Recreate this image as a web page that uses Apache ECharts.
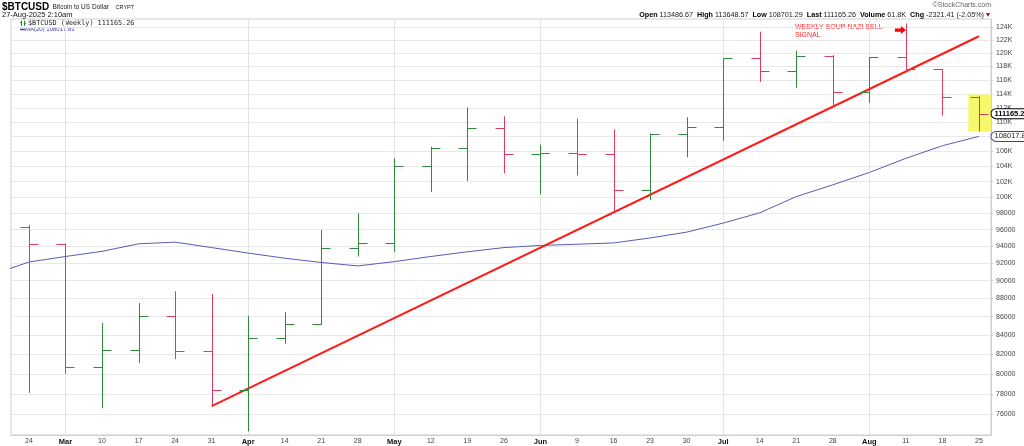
<!DOCTYPE html>
<html><head><meta charset="utf-8">
<script src="https://cdn.jsdelivr.net/npm/echarts@6/dist/echarts.min.js"></script>
<style>html,body{margin:0;padding:0;background:#fff}#c{width:1024px;height:446px}</style>
</head><body><div id="c"></div>
<script>
// ---- data (weekly bars, Feb 24 – Aug 25 2025) ----
const weekLabels = ['24','Mar','10','17','24','31','Apr','14','21','28','May','12','19','26','Jun','9','16','23','30','Jul','14','21','28','Aug','11','18','25'];
const openP  = [96300, 94300, 80700, 82500, 86100, 82300, 78400, 83700, 85200, 93750, 94350, 104100, 106500, 109100, 105700, 105800, 105600, 101000, 108300, 109300, 119200, 117300, 119550, 114300, 119400, 117600, 113486.67];
const highP  = [96560, 94300, 85300, 87500, 88800, 88500, 86100, 86500, 95950, 98000, 105060, 106600, 112050, 110800, 106900, 110500, 108970, 108400, 110650, 119200, 123300, 120400, 119700, 119400, 124600, 117600, 113648.57];
const lowP   = [78100, 80000, 76600, 81100, 81500, 76800, 74400, 83100, 85100, 92800, 93350, 100700, 102100, 103100, 100400, 102800, 98200, 99650, 105200, 107400, 115700, 114800, 112050, 112700, 117200, 110900, 108701.29];
const closeP = [94300, 80700, 82500, 86100, 82300, 78400, 83700, 85200, 93750, 94350, 104100, 106500, 109100, 105700, 105800, 105600, 101000, 108400, 109300, 119200, 117300, 119550, 114300, 119400, 117600, 113486.67, 111165.26];
const maPrior = 90700; // MA(20) of the week before the first shown bar
const ma20 = [92150, 92800, 93400, 94300, 94500, 93850, 93200, 92600, 92100, 91700, 92200, 92800, 93350, 93850, 94100, 94250, 94400, 95000, 95700, 96800, 98070, 100100, 101600, 103200, 105060, 106750, 108017.81];
const yTicks = [76000, 78000, 80000, 82000, 84000, 86000, 88000, 90000, 92000, 94000, 96000, 98000, 100000, 102000, 104000, 106000, 108000, 110000, 112000, 114000, 116000, 118000, 120000, 122000, 124000];
const trendStart = [5, 76800];
const trendEnd = [26, 122600];
const lastVolume = '61.8K';
const signalText = 'WEEKLY SOUP NAZI SELL\nSIGNAL';
const signalArrowAt = [23.85, 123560];
const highlightBox = [[25.71, 113900], [26.33, 108650]];

// ---- helpers ----
const L = Math.log;
const n = weekLabels.length;
const last = n - 1;
const XMIN = -0.49, XMAX = 26.33;
const UP = '#2f8a3b', DOWN = '#dc3a62';
const FONT = 'Liberation Sans, Arial, sans-serif';

const ohlc = weekLabels.map((_, i) => [i, L(openP[i]), L(highP[i]), L(lowP[i]), L(closeP[i])]);
const maData = [[-1, L(maPrior)]].concat(ma20.map((v, i) => [i, L(v)]));
const monthIdx = weekLabels.map((s, i) => /^\d/.test(s) ? -1 : i).filter(i => i >= 0);

const chg = closeP[last] - closeP[last - 1];
const chgPct = chg / closeP[last - 1] * 100;
const fmt2 = v => v.toFixed(2);

function renderItem(params, api) {
  const x = api.value(0);
  const o = api.coord([x, api.value(1)]);
  const h = api.coord([x, api.value(2)]);
  const l = api.coord([x, api.value(3)]);
  const c = api.coord([x, api.value(4)]);
  const color = api.value(4) >= api.value(1) ? UP : DOWN;
  const px = Math.round(o[0]) + 0.5;
  const w = 9;
  return { type: 'group', children: [
    { type: 'line', shape: { x1: px, y1: h[1], x2: px, y2: l[1] }, style: { stroke: color, lineWidth: 1 } },
    { type: 'line', shape: { x1: px - w, y1: Math.round(o[1]) + 0.5, x2: px, y2: Math.round(o[1]) + 0.5 }, style: { stroke: color, lineWidth: 1 } },
    { type: 'line', shape: { x1: px, y1: Math.round(c[1]) + 0.5, x2: px + w, y2: Math.round(c[1]) + 0.5 }, style: { stroke: color, lineWidth: 1 } }
  ]};
}

const chart = echarts.init(document.getElementById('c'), null, { renderer: 'canvas' });
chart.setOption({
  animation: false,
  backgroundColor: '#fff',
  textStyle: { fontFamily: FONT },
  grid: { left: 11, right: 33, top: 19, bottom: 11, show: true, borderColor: '#cfcfcf', borderWidth: 1, outerBoundsMode: 'none' },
  xAxis: {
    type: 'value', min: XMIN, max: XMAX,
    axisLine: { show: true, onZero: false, lineStyle: { color: '#cfcfcf' } },
    axisTick: { show: false, customValues: monthIdx },
    splitLine: { show: true, lineStyle: { color: '#e4e4e4', width: 1 } },
    axisLabel: {
      customValues: weekLabels.map((_, i) => i), margin: 3,
      formatter: v => { const s = weekLabels[Math.round(v)]; return /^\d/.test(s) ? '{n|' + s + '}' : '{m|' + s + '}'; },
      rich: { n: { fontSize: 7, color: '#444', fontFamily: FONT }, m: { fontSize: 7.5, fontWeight: 'bold', color: '#111', fontFamily: FONT } }
    }
  },
  yAxis: {
    type: 'value', position: 'right', min: L(74050), max: L(125300),
    axisLine: { show: true, onZero: false, lineStyle: { color: '#cfcfcf' } },
    axisTick: { show: true, length: 2, customValues: yTicks.map(L), lineStyle: { color: '#cfcfcf' } },
    splitLine: { show: true, lineStyle: { color: '#e8e8e8', width: 1 } },
    axisLabel: {
      customValues: yTicks.map(L), margin: 5, fontSize: 7, color: '#444', fontFamily: FONT,
      formatter: v => { const k = Math.round(Math.exp(v) / 1000); return k >= 100 ? k + 'K' : String(k * 1000); }
    }
  },
  series: [
    {
      type: 'line', name: 'MA(20)', data: maData, z: 2, showSymbol: false, clip: true,
      lineStyle: { color: '#5a5ab4', width: 1 }, silent: true
    },
    {
      type: 'line', name: 'trend', data: [[trendStart[0], L(trendStart[1])], [trendEnd[0], L(trendEnd[1])]],
      z: 4, showSymbol: false, lineStyle: { color: '#ff1a1a', width: 2 }, silent: true,
      markArea: {
        silent: true, itemStyle: { color: '#f7f76b' },
        data: [[{ coord: [highlightBox[0][0], L(highlightBox[0][1])] }, { coord: [highlightBox[1][0], L(highlightBox[1][1])] }]]
      }
    },
    {
      type: 'custom', name: 'BTCUSD', z: 5, renderItem, data: ohlc, encode: { x: 0, y: [1, 2, 3, 4] },
      markPoint: {
        silent: true,
        data: [
          { coord: [signalArrowAt[0], L(signalArrowAt[1])], symbol: 'path://M0,3 L6,3 L6,0 L11,5 L6,10 L6,7 L0,7 Z', symbolSize: [11, 8], itemStyle: { color: '#ff0000' }, label: { show: false } },
          { coord: [XMAX, L(closeP[last])], symbol: 'rect', symbolSize: 1, itemStyle: { color: 'rgba(0,0,0,0)' },
            label: { show: true, position: 'right', distance: 0, formatter: fmt2(closeP[last]), fontSize: 7.5, fontWeight: 'bold', color: '#000', fontFamily: FONT,
              backgroundColor: '#fff', borderColor: '#000', borderWidth: 1, borderRadius: [5, 0, 0, 5], padding: [1, 2, 0, 3] } },
          { coord: [XMAX, L(ma20[last])], symbol: 'rect', symbolSize: 1, itemStyle: { color: 'rgba(0,0,0,0)' },
            label: { show: true, position: 'right', distance: 0, formatter: fmt2(ma20[last]), fontSize: 7.5, color: '#222', fontFamily: FONT,
              backgroundColor: '#fff', borderColor: '#3c3cb4', borderWidth: 1, borderRadius: [5, 0, 0, 5], padding: [1, 2, 0, 3] } }
        ]
      }
    }
  ],
  graphic: [
    { type: 'text', left: 2, top: 1, style: { text: '{t|$BTCUSD} {s|Bitcoin to US Dollar}  {c|CRYPT}', rich: {
      t: { fontSize: 10, fontWeight: 'bold', fill: '#000', fontFamily: FONT },
      s: { fontSize: 6.5, fill: '#222', fontFamily: FONT },
      c: { fontSize: 5.5, fill: '#222', fontFamily: FONT } } } },
    { type: 'text', left: 2, top: 11, style: { text: '27-Aug-2025 2:10am', fontSize: 7.5, fill: '#111', fontFamily: FONT } },
    { type: 'text', right: 33, top: 2, style: { text: '\u00A9StockCharts.com', fontSize: 7, fill: '#666', fontFamily: FONT } },
    { type: 'text', right: 34, top: 11, style: {
      text: '{b|Open} ' + fmt2(openP[last]) + '  {b|High} ' + fmt2(highP[last]) + '  {b|Low} ' + fmt2(lowP[last]) + '  {b|Last} ' + fmt2(closeP[last]) +
            '  {b|Volume} ' + lastVolume + '  {b|Chg} ' + fmt2(chg) + ' (' + chgPct.toFixed(2) + '%) {r|\u25BE}',
      fontSize: 7.2, fill: '#222', fontFamily: FONT,
      rich: { b: { fontSize: 7.2, fontWeight: 'bold', fill: '#000', fontFamily: FONT }, r: { fontSize: 8, fill: '#c0003a' } } } },
    // legend
    { type: 'line', shape: { x1: 21.5, y1: 20.5, x2: 21.5, y2: 26 }, style: { stroke: UP, lineWidth: 1 } },
    { type: 'line', shape: { x1: 24.5, y1: 20.5, x2: 24.5, y2: 26 }, style: { stroke: UP, lineWidth: 1 } },
    { type: 'line', shape: { x1: 20, y1: 22.5, x2: 21.5, y2: 22.5 }, style: { stroke: UP, lineWidth: 1 } },
    { type: 'line', shape: { x1: 24.5, y1: 23.5, x2: 26, y2: 23.5 }, style: { stroke: UP, lineWidth: 1 } },
    { type: 'text', left: 28, top: 19.5, style: { text: '$BTCUSD (Weekly) ' + fmt2(closeP[last]), fontSize: 6.8, fill: '#222', fontFamily: 'DejaVu Sans Mono, monospace' } },
    { type: 'line', shape: { x1: 20, y1: 29.5, x2: 25, y2: 29.5 }, style: { stroke: '#3c3cb4', lineWidth: 1.5 } },
    { type: 'text', left: 25, top: 26.5, style: { text: 'MA(20) ' + fmt2(ma20[last]), fontSize: 6, fill: '#3c3cb4', fontFamily: FONT } },
    // annotation text
    { type: 'text', left: 795, top: 22.5, style: { text: signalText, fontSize: 7, lineHeight: 8.5, fill: '#ff2a2a', fontFamily: FONT } }
  ]
});
</script></body></html>
